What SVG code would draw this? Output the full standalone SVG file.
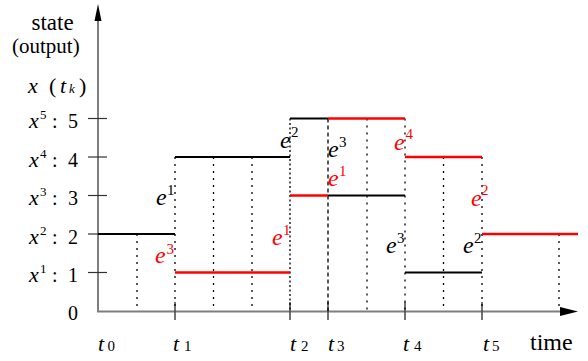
<svg xmlns="http://www.w3.org/2000/svg" width="588" height="361" viewBox="0 0 588 361">
<style>
text{fill:#000;font-family:"Liberation Serif",Tinos,"Times New Roman",Times,"DejaVu Serif",serif}
.it{font-style:italic}
.red{fill:#ff0000}
.ax{stroke:#7f7f7f;stroke-width:2;fill:none}
.ytick{stroke:#333;stroke-width:1.2}
.xtick{stroke:#444;stroke-width:1.5}
.dot{stroke:#000;stroke-width:1.3;stroke-dasharray:2 5;fill:none}
.dot2{stroke:#000;stroke-width:1.3;stroke-dasharray:2 2.5;fill:none}
.dash{stroke:#000;stroke-width:1.3;stroke-dasharray:4 3;fill:none}
.lb{stroke:#000;stroke-width:2.2}
.lr{stroke:#ff0000;stroke-width:2.5}
.e{font-size:24px}
.sup{font-size:15px;font-style:normal}
.lvl{font-size:20px}
.lx{font-size:22px;font-style:italic}
.ls{font-size:13px}
.t{font-size:22px;font-style:italic}
.ts{font-size:15px}
</style>

<g id="axes">
  <line class="ax" x1="98" y1="312" x2="98" y2="20"/>
  <polygon points="98,4 94.5,21 101.5,21" fill="#000"/>
  <line class="ax" x1="97" y1="311.5" x2="562" y2="311.5"/>
  <polygon points="578,311.5 560,307 560,316" fill="#000"/>
  <line class="ytick" x1="88" y1="118.5" x2="107" y2="118.5"/>
  <line class="ytick" x1="88" y1="157" x2="107" y2="157"/>
  <line class="ytick" x1="88" y1="195.5" x2="107" y2="195.5"/>
  <line class="ytick" x1="88" y1="234" x2="98" y2="234"/>
  <line class="ytick" x1="88" y1="272.5" x2="107" y2="272.5"/>
  <line class="xtick" x1="175" y1="302" x2="175" y2="320"/>
  <line class="xtick" x1="290" y1="302" x2="290" y2="320"/>
  <line class="xtick" x1="328" y1="302" x2="328" y2="320"/>
  <line class="xtick" x1="405" y1="302" x2="405" y2="320"/>
  <line class="xtick" x1="482" y1="302" x2="482" y2="320"/>
</g>

<g id="axis-labels">
  <text x="31.5" y="30" font-size="23">state</text>
  <text x="12" y="53" font-size="21">(output)</text>
  <text x="28" y="92.5" class="lx">x</text>
  <text x="49" y="92.5" font-size="22">(</text>
  <text x="60" y="92.5" class="t">t</text>
  <text x="69" y="92.5" font-size="13" class="it">k</text>
  <text x="79" y="92.5" font-size="22">)</text>

  <text x="29" y="128" class="lx">x</text><text x="40" y="119" class="ls">5</text><text x="52" y="128" class="lvl">:</text><text x="68" y="128" class="lvl">5</text>
  <text x="29" y="166.5" class="lx">x</text><text x="40" y="157.5" class="ls">4</text><text x="52" y="166.5" class="lvl">:</text><text x="68" y="166.5" class="lvl">4</text>
  <text x="29" y="205" class="lx">x</text><text x="40" y="196" class="ls">3</text><text x="52" y="205" class="lvl">:</text><text x="68" y="205" class="lvl">3</text>
  <text x="29" y="243.5" class="lx">x</text><text x="40" y="234.5" class="ls">2</text><text x="52" y="243.5" class="lvl">:</text><text x="68" y="243.5" class="lvl">2</text>
  <text x="29" y="282" class="lx">x</text><text x="40" y="273" class="ls">1</text><text x="52" y="282" class="lvl">:</text><text x="68" y="282" class="lvl">1</text>
  <text x="68" y="320" class="lvl">0</text>

  <text x="98" y="351" class="t">t</text><text x="107.5" y="351" class="ts">0</text>
  <text x="173" y="351" class="t">t</text><text x="184" y="351" class="ts">1</text>
  <text x="290" y="351" class="t">t</text><text x="301" y="351" class="ts">2</text>
  <text x="328" y="351" class="t">t</text><text x="337" y="351" class="ts">3</text>
  <text x="403" y="351" class="t">t</text><text x="414" y="351" class="ts">4</text>
  <text x="483" y="351" class="t">t</text><text x="492" y="351" class="ts">5</text>
  <text x="530" y="350" font-size="24">time</text>
</g>

<g id="connectors">
  <line class="dot" x1="137" y1="234" x2="137" y2="311"/>
  <line class="dot" x1="175" y1="157" x2="175" y2="311"/>
  <line class="dot" x1="213.5" y1="157" x2="213.5" y2="311"/>
  <line class="dot" x1="252" y1="157" x2="252" y2="311"/>
  <line class="dot2" x1="290" y1="118.5" x2="290" y2="311"/>
  <line class="dash" x1="328" y1="118.5" x2="328" y2="311"/>
  <line class="dot" x1="367" y1="118.5" x2="367" y2="311"/>
  <line class="dot" x1="405" y1="118.5" x2="405" y2="311"/>
  <line class="dot" x1="443.5" y1="157" x2="443.5" y2="311"/>
  <line class="dot" x1="482" y1="157" x2="482" y2="311"/>
  <line class="dot" x1="559" y1="234" x2="559" y2="311"/>
</g>

<g id="black-path">
  <line class="lb" x1="98" y1="234" x2="175" y2="234"/>
  <line class="lb" x1="175" y1="157" x2="290" y2="157"/>
  <line class="lb" x1="290" y1="118.5" x2="328" y2="118.5"/>
  <line class="lb" x1="328" y1="195.5" x2="405" y2="195.5"/>
  <line class="lb" x1="405" y1="272.5" x2="482" y2="272.5"/>
</g>

<g id="red-path">
  <line class="lr" x1="175" y1="272.5" x2="290" y2="272.5"/>
  <line class="lr" x1="290" y1="195.5" x2="328" y2="195.5"/>
  <line class="lr" x1="328" y1="118.5" x2="405" y2="118.5"/>
  <line class="lr" x1="405" y1="157" x2="482" y2="157"/>
  <line class="lr" x1="482" y1="234" x2="578" y2="234"/>
</g>

<g id="event-labels">
  <text x="156" y="205" class="e it">e</text><text x="167" y="195" class="e sup">1</text>
  <text x="155" y="263" class="e it red">e</text><text x="166.5" y="254" class="e sup red">3</text>
  <text x="280" y="148" class="e it">e</text><text x="291" y="137" class="e sup">2</text>
  <text x="272" y="245" class="e it red">e</text><text x="283" y="235" class="e sup red">1</text>
  <text x="328" y="157" class="e it">e</text><text x="339" y="147" class="e sup">3</text>
  <text x="328" y="186" class="e it red">e</text><text x="339" y="176" class="e sup red">1</text>
  <text x="394" y="150" class="e it red">e</text><text x="405.5" y="139" class="e sup red">4</text>
  <text x="386" y="253" class="e it">e</text><text x="397" y="243" class="e sup">3</text>
  <text x="471" y="206" class="e it red">e</text><text x="481" y="195" class="e sup red">2</text>
  <text x="463" y="253" class="e it">e</text><text x="474" y="243" class="e sup">2</text>
</g>
</svg>
